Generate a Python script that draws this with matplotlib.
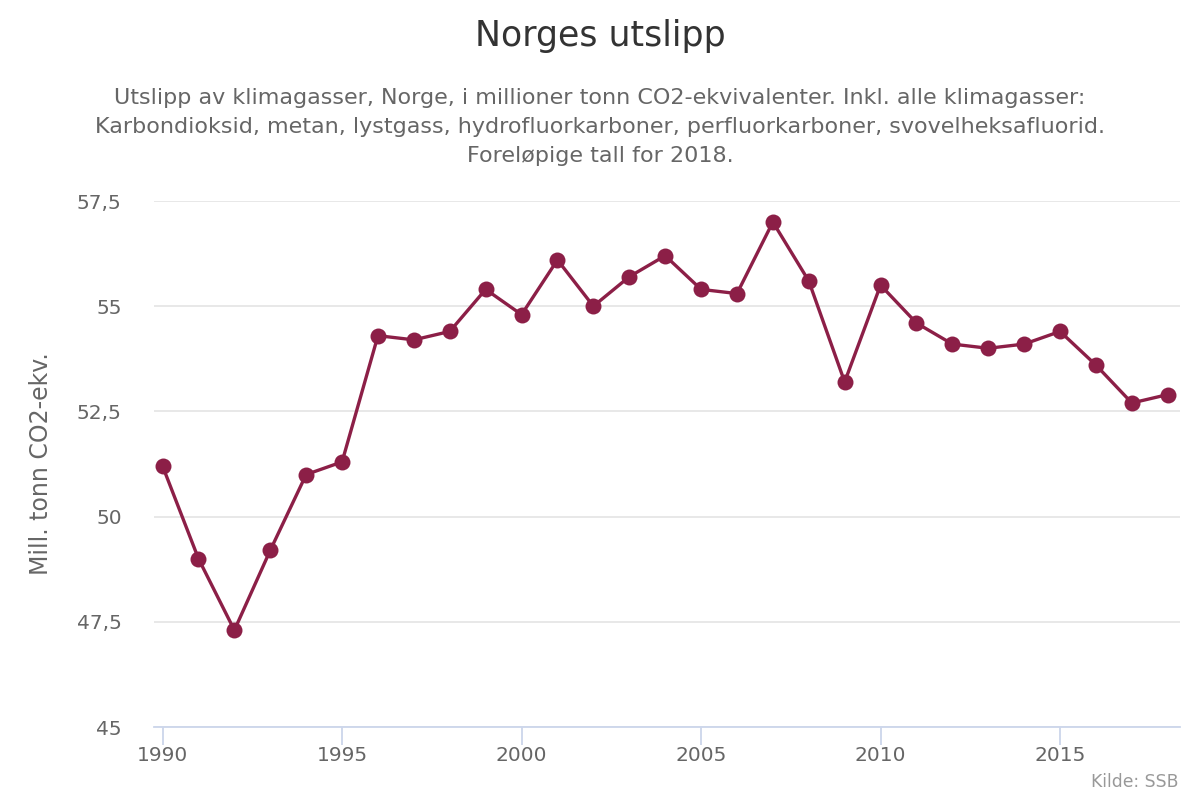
import matplotlib
matplotlib.use("Agg")
import matplotlib.pyplot as plt
from matplotlib.ticker import FuncFormatter

# Utslipp, mill. tonn CO2-ekv.
years = list(range(1990, 2019))
emissions = [51.2, 49.0, 47.3, 49.2, 51.0, 51.3, 54.3, 54.2, 54.4, 55.4,
             54.8, 56.1, 55.0, 55.7, 56.2, 55.4, 55.3, 57.0, 55.6, 53.2,
             55.5, 54.6, 54.1, 54.0, 54.1, 54.4, 53.6, 52.7, 52.9]

y_ticks = [45, 47.5, 50, 52.5, 55, 57.5]
x_ticks = [1990, 1995, 2000, 2005, 2010, 2015]

line_color = '#8c1f47'
text_color = '#666666'

plt.rcParams['font.family'] = ['DejaVu Sans']

fig = plt.figure(figsize=(12, 8), dpi=100)
ax = fig.add_axes([0.128, 0.09125, 0.855, 0.6575])

ax.plot(years, emissions, color=line_color, linewidth=2.4,
        marker='o', markersize=11.5, markeredgewidth=0, zorder=3)

ax.set_xlim(1989.75, 2018.33)
ax.set_ylim(45, 57.5)
ax.set_yticks(y_ticks)
ax.set_xticks(x_ticks)
ax.yaxis.set_major_formatter(FuncFormatter(lambda v, p: ('%g' % v).replace('.', ',')))

ax.grid(axis='y', color='#e6e6e6', linewidth=1.3)
ax.set_axisbelow(True)
for s in ['top', 'right', 'left']:
    ax.spines[s].set_visible(False)
ax.spines['bottom'].set_color('#ccd6eb')
ax.spines['bottom'].set_linewidth(1.3)
ax.tick_params(axis='y', length=0, pad=23, labelsize=14.5, labelcolor=text_color)
ax.tick_params(axis='x', length=13, width=1.3, color='#ccd6eb', pad=1,
               labelsize=14.5, labelcolor=text_color)

ax.set_ylabel('Mill. tonn CO2-ekv.', fontsize=17, color=text_color)
ax.yaxis.set_label_coords(-0.098, 0.5)

fig.text(0.5, 0.955, 'Norges utslipp', ha='center', va='center',
         fontsize=25, color='#333333')
fig.text(0.5, 0.8415,
         'Utslipp av klimagasser, Norge, i millioner tonn CO2-ekvivalenter. Inkl. alle klimagasser:\n'
         'Karbondioksid, metan, lystgass, hydrofluorkarboner, perfluorkarboner, svovelheksafluorid.\n'
         'Foreløpige tall for 2018.',
         ha='center', va='center', fontsize=16, color=text_color, linespacing=1.58)
fig.text(0.982, 0.022, 'Kilde: SSB', ha='right', va='center', fontsize=12.4, color='#999999')

fig.savefig('out.png', dpi=100)
